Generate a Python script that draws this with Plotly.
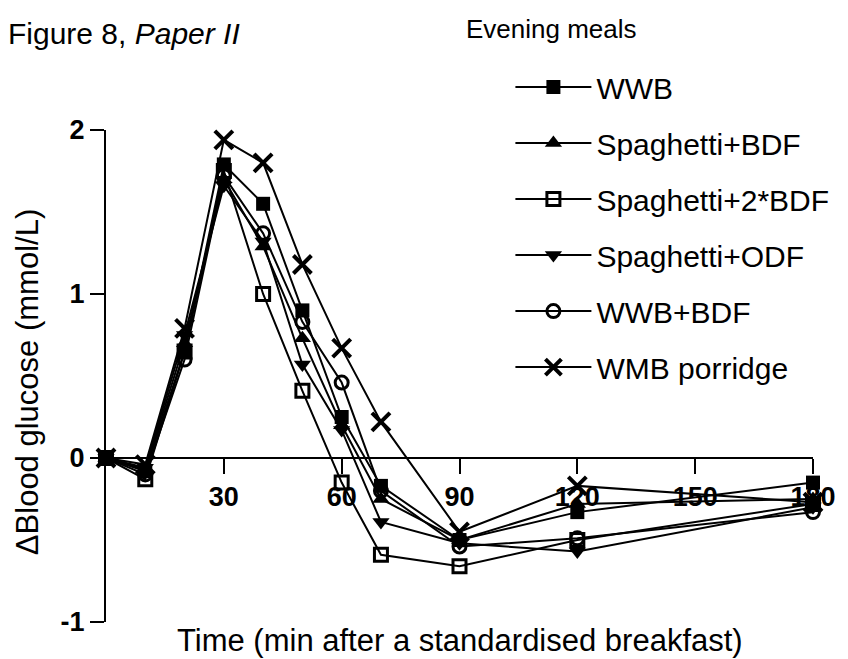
import plotly.graph_objects as go

times = [0, 10, 20, 30, 40, 50, 60, 70, 90, 120, 180]

series_names = ["WWB", "Spaghetti+BDF", "Spaghetti+2*BDF", "Spaghetti+ODF", "WWB+BDF", "WMB porridge"]
wwb = [0, -0.08, 0.65, 1.79, 1.55, 0.90, 0.25, -0.17, -0.50, -0.33, -0.15]
spag_bdf = [0, -0.07, 0.70, 1.70, 1.29, 0.73, 0.20, -0.25, -0.50, -0.28, -0.25]
spag_2bdf = [0, -0.13, 0.65, 1.75, 1.00, 0.41, -0.15, -0.59, -0.66, -0.50, -0.28]
spag_odf = [0, -0.06, 0.75, 1.66, 1.32, 0.57, 0.17, -0.39, -0.52, -0.57, -0.30]
wwb_bdf = [0, -0.10, 0.60, 1.72, 1.37, 0.83, 0.46, -0.20, -0.54, -0.49, -0.33]
wmb_porridge = [0, -0.04, 0.79, 1.94, 1.80, 1.18, 0.67, 0.22, -0.45, -0.17, -0.27]

x_ticks = [30, 60, 90, 120, 150, 180]
y_ticks = [-1, 0, 1, 2]

values = [wwb, spag_bdf, spag_2bdf, spag_odf, wwb_bdf, wmb_porridge]
symbols = ["square", "triangle-up", "square-open", "triangle-down", "circle-open", "x-thin-open"]
sizes = [14, 15, 13, 15, 13, 18]
mlw = [0, 0, 3, 0, 3, 4]

FONT = "Liberation Sans, Arial, sans-serif"

fig = go.Figure()
for i, (name, vals) in enumerate(zip(series_names, values)):
    fig.add_trace(go.Scatter(
        x=times, y=vals, name=name, mode="lines+markers",
        line=dict(color="black", width=2),
        marker=dict(symbol=symbols[i], size=sizes[i], color="black",
                    line=dict(color="black", width=mlw[i])),
        cliponaxis=False, legendgroup=name,
    ))

fig.update_layout(
    width=840, height=651,
    paper_bgcolor="white", plot_bgcolor="white",
    margin=dict(l=98, r=27, t=122, b=37),
    font=dict(family=FONT, color="black", size=26),
    showlegend=True,
    legend=dict(
        x=0.572, xanchor="left", y=1.14, yanchor="top",
        font=dict(size=30, family=FONT, color="black"),
        itemwidth=76, tracegroupgap=14, bgcolor="rgba(0,0,0,0)",
        maxheight=600,
    ),
    xaxis=dict(
        range=[0, 180], tickvals=x_ticks, ticktext=[str(v) for v in x_ticks],
        anchor="free", position=1/3,
        showline=True, linecolor="black", linewidth=2,
        ticks="outside", ticklen=15, tickwidth=2, tickcolor="black",
        showgrid=False, zeroline=False,
        tickfont=dict(size=27, family=FONT, weight="bold", color="black"),
    ),
    yaxis=dict(
        range=[-1, 2], tickvals=y_ticks, ticktext=[str(v) for v in y_ticks],
        showline=True, linecolor="black", linewidth=2,
        ticks="outside", ticklen=14, tickwidth=2, tickcolor="black",
        showgrid=False, zeroline=False,
        tickfont=dict(size=27, family=FONT, weight="bold", color="black"),
    ),
    annotations=[
        dict(text="Figure 8, <i>Paper II</i>", x=-0.142, y=1.197, xref="paper", yref="paper",
             xanchor="left", yanchor="middle", showarrow=False, font=dict(size=30)),
        dict(text="Evening meals", x=0.506, y=1.205, xref="paper", yref="paper",
             xanchor="left", yanchor="middle", showarrow=False, font=dict(size=26)),
        dict(text="\u0394Blood glucose (mmol/L)", x=-0.11, y=0.488, xref="paper", yref="paper",
             xanchor="center", yanchor="middle", textangle=-90, showarrow=False, font=dict(size=31)),
        dict(text="Time (min after a standardised breakfast)", x=0.5, y=-0.037, xref="paper", yref="paper",
             xanchor="center", yanchor="middle", showarrow=False, font=dict(size=31)),
    ],
)

fig.write_html("out.html")
